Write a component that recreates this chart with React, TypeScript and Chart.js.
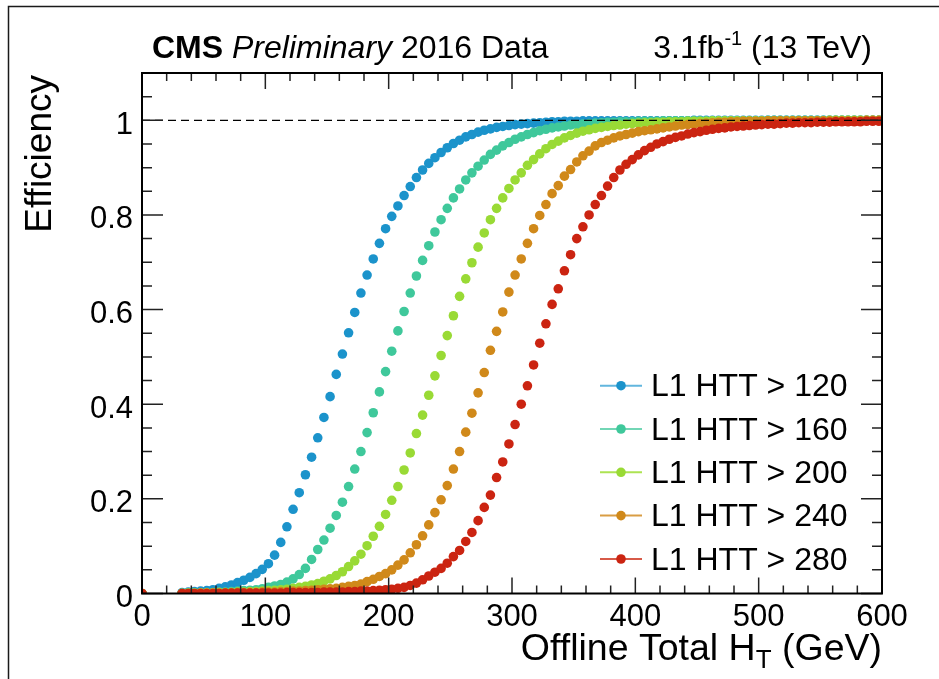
import React, { useEffect, useRef } from "react";
import { Chart, registerables } from "chart.js";

Chart.register(...registerables);

const W = 939;
const H = 679;
const FONT = "'Liberation Sans', Arial, Helvetica, sans-serif";

// Offline H_T bin centres (GeV): a lone first bin at 0, then 5 GeV bins from 30 to 600
const htBins = [0, ...Array.from({ length: 114 }, (_, i) => 32.5 + 5 * i)];

// Efficiency per bin, one row = 10 bins
const effHTT120 = [0,
  0.002, 0.003, 0.004, 0.005, 0.006, 0.008, 0.011, 0.014, 0.018, 0.023,
  0.028, 0.034, 0.042, 0.051, 0.063, 0.081, 0.108, 0.141, 0.178, 0.213,
  0.251, 0.288, 0.329, 0.372, 0.416, 0.463, 0.506, 0.551, 0.594, 0.635,
  0.673, 0.707, 0.740, 0.771, 0.797, 0.819, 0.841, 0.860, 0.879, 0.895,
  0.909, 0.921, 0.932, 0.942, 0.951, 0.958, 0.965, 0.970, 0.975, 0.979,
  0.982, 0.985, 0.987, 0.989, 0.991, 0.992, 0.993, 0.994, 0.995, 0.996,
  0.997, 0.997, 0.998, 0.998, 0.998, 0.999, 0.999, 0.999, 0.999, 0.999,
  0.999, 0.999, 0.999, 0.999, 0.999, 0.999, 0.999, 0.999, 0.999, 0.999,
  0.999, 0.999, 0.999, 1, 1, 1, 1, 1, 1, 1,
  1, 1, 1, 1, 1, 1, 1, 1, 1, 1,
  1, 1, 1, 1, 1, 1, 1, 1, 1, 1,
  1, 1, 1, 1,
];

const effHTT160 = [0,
  0.001, 0.001, 0.001, 0.001, 0.002, 0.002, 0.003, 0.003, 0.004, 0.005,
  0.006, 0.007, 0.008, 0.010, 0.013, 0.016, 0.019, 0.024, 0.031, 0.040,
  0.053, 0.072, 0.093, 0.113, 0.138, 0.165, 0.193, 0.226, 0.263, 0.300,
  0.340, 0.382, 0.426, 0.469, 0.512, 0.555, 0.596, 0.635, 0.671, 0.704,
  0.735, 0.764, 0.790, 0.814, 0.836, 0.855, 0.874, 0.889, 0.903, 0.916,
  0.928, 0.937, 0.946, 0.953, 0.960, 0.965, 0.970, 0.974, 0.978, 0.981,
  0.984, 0.986, 0.988, 0.990, 0.991, 0.992, 0.993, 0.994, 0.995, 0.996,
  0.996, 0.997, 0.997, 0.997, 0.998, 0.998, 0.998, 0.998, 0.999, 0.999,
  0.999, 0.999, 0.999, 0.999, 0.999, 0.999, 0.999, 0.999, 0.999, 0.999,
  0.999, 0.999, 0.999, 0.999, 0.999, 1, 1, 1, 1, 1,
  1, 1, 1, 1, 1, 1, 1, 1, 1, 1,
  1, 1, 1, 1,
];

const effHTT200 = [0,
  0.000, 0.001, 0.001, 0.001, 0.001, 0.001, 0.002, 0.002, 0.002, 0.003,
  0.003, 0.004, 0.004, 0.005, 0.006, 0.007, 0.008, 0.009, 0.011, 0.013,
  0.015, 0.018, 0.021, 0.026, 0.031, 0.038, 0.046, 0.057, 0.069, 0.083,
  0.101, 0.121, 0.142, 0.167, 0.197, 0.226, 0.261, 0.297, 0.338, 0.377,
  0.419, 0.460, 0.503, 0.545, 0.587, 0.628, 0.665, 0.699, 0.732, 0.762,
  0.790, 0.814, 0.836, 0.856, 0.874, 0.889, 0.905, 0.917, 0.929, 0.940,
  0.949, 0.956, 0.963, 0.968, 0.973, 0.977, 0.980, 0.983, 0.985, 0.987,
  0.989, 0.990, 0.992, 0.993, 0.994, 0.995, 0.995, 0.996, 0.996, 0.997,
  0.997, 0.997, 0.998, 0.998, 0.998, 0.998, 0.999, 0.999, 0.999, 0.999,
  0.999, 0.999, 0.999, 0.999, 0.999, 0.999, 0.999, 0.999, 0.999, 0.999,
  0.999, 0.999, 0.999, 0.999, 0.999, 1, 1, 1, 1, 1,
  1, 1, 1, 1,
];

const effHTT240 = [0,
  0.000, 0.000, 0.000, 0.001, 0.001, 0.001, 0.001, 0.001, 0.001, 0.002,
  0.002, 0.002, 0.002, 0.003, 0.003, 0.003, 0.004, 0.004, 0.005, 0.005,
  0.006, 0.007, 0.008, 0.009, 0.010, 0.011, 0.013, 0.015, 0.017, 0.020,
  0.025, 0.030, 0.036, 0.042, 0.050, 0.060, 0.071, 0.086, 0.103, 0.122,
  0.145, 0.171, 0.198, 0.228, 0.263, 0.300, 0.341, 0.381, 0.424, 0.467,
  0.514, 0.554, 0.595, 0.637, 0.673, 0.707, 0.740, 0.771, 0.799, 0.822,
  0.845, 0.862, 0.882, 0.896, 0.912, 0.925, 0.935, 0.946, 0.953, 0.958,
  0.963, 0.967, 0.970, 0.973, 0.976, 0.978, 0.980, 0.982, 0.984, 0.986,
  0.988, 0.990, 0.991, 0.992, 0.993, 0.994, 0.995, 0.996, 0.996, 0.997,
  0.997, 0.998, 0.998, 0.998, 0.998, 0.999, 0.999, 0.999, 0.999, 0.999,
  0.999, 0.999, 0.999, 0.999, 0.999, 0.999, 0.999, 0.999, 0.999, 0.999,
  0.999, 1, 1, 1,
];

const effHTT280 = [0,
  0.000, 0.000, 0.000, 0.000, 0.000, 0.000, 0.000, 0.001, 0.001, 0.001,
  0.001, 0.001, 0.001, 0.001, 0.001, 0.001, 0.001, 0.002, 0.002, 0.002,
  0.002, 0.002, 0.002, 0.003, 0.003, 0.003, 0.003, 0.004, 0.004, 0.005,
  0.005, 0.006, 0.007, 0.008, 0.009, 0.011, 0.013, 0.017, 0.022, 0.029,
  0.037, 0.045, 0.053, 0.064, 0.078, 0.091, 0.110, 0.129, 0.154, 0.182,
  0.208, 0.245, 0.278, 0.316, 0.357, 0.400, 0.439, 0.483, 0.529, 0.570,
  0.611, 0.644, 0.682, 0.716, 0.750, 0.775, 0.800, 0.822, 0.841, 0.861,
  0.879, 0.895, 0.907, 0.917, 0.927, 0.936, 0.943, 0.950, 0.955, 0.960,
  0.964, 0.967, 0.971, 0.974, 0.976, 0.979, 0.981, 0.983, 0.984, 0.986,
  0.987, 0.988, 0.989, 0.990, 0.991, 0.992, 0.992, 0.993, 0.994, 0.994,
  0.995, 0.995, 0.995, 0.996, 0.996, 0.996, 0.997, 0.997, 0.997, 0.997,
  0.997, 0.998, 0.998, 0.998,
];

const seriesLabels = ["L1 HTT > 120", "L1 HTT > 160", "L1 HTT > 200", "L1 HTT > 240", "L1 HTT > 280"];
const seriesValues = [effHTT120, effHTT160, effHTT200, effHTT240, effHTT280];
const markerColors = ["#1b93cb", "#3fc89b", "#99da35", "#d0891a", "#cb2411"];
const legendLineColors = ["#62b6de", "#72d6b5", "#ade352", "#d99d44", "#d75a48"];

const xMajorTicks = [0, 100, 200, 300, 400, 500, 600];
const yMajorTicks = [0, 0.2, 0.4, 0.6, 0.8, 1];
const yTickLabels = ["0", "0.2", "0.4", "0.6", "0.8", "1"];

const rootStylePlugin = {
  id: "rootStyle",
  beforeDraw(chart: any) {
    const ctx = chart.ctx;
    ctx.save();
    ctx.fillStyle = "#ffffff";
    ctx.fillRect(0, 0, W, H);
    // outer canvas frame
    ctx.strokeStyle = "#1a1a1a";
    ctx.lineWidth = 1.5;
    ctx.beginPath();
    ctx.moveTo(8.5, H + 2);
    ctx.lineTo(8.5, 6.5);
    ctx.lineTo(W + 2, 6.5);
    ctx.stroke();
    ctx.restore();
  },
  afterDatasetsDraw(chart: any) {
    const ctx = chart.ctx;
    const { left, right } = chart.chartArea;
    const y1 = chart.scales.y.getPixelForValue(1);
    ctx.save();
    ctx.strokeStyle = "#000";
    ctx.lineWidth = 1.2;
    ctx.setLineDash([8, 5]);
    ctx.beginPath();
    ctx.moveTo(left, y1);
    ctx.lineTo(right, y1);
    ctx.stroke();
    ctx.restore();
  },
  afterDraw(chart: any) {
    const ctx = chart.ctx;
    const { left, right, top, bottom } = chart.chartArea;
    const xs = chart.scales.x;
    const ys = chart.scales.y;
    ctx.save();

    // ticks on all four sides, pointing inwards
    ctx.strokeStyle = "#222";
    ctx.lineWidth = 1.5;
    ctx.beginPath();
    for (let v = 0; v <= 600; v += 20) {
      const px = xs.getPixelForValue(v);
      const len = v % 100 === 0 ? 16 : 8;
      ctx.moveTo(px, bottom);
      ctx.lineTo(px, bottom - len);
      ctx.moveTo(px, top);
      ctx.lineTo(px, top + len);
    }
    for (let i = 0; i <= 22; i++) {
      const v = i * 0.05;
      const py = ys.getPixelForValue(v);
      const len = i % 4 === 0 ? 21 : 10;
      ctx.moveTo(left, py);
      ctx.lineTo(left + len, py);
      ctx.moveTo(right, py);
      ctx.lineTo(right - len, py);
    }
    ctx.stroke();

    // frame
    ctx.strokeStyle = "#000";
    ctx.lineWidth = 2;
    ctx.strokeRect(left, top, right - left, bottom - top);

    // tick labels
    ctx.fillStyle = "#000";
    ctx.font = `31px ${FONT}`;
    ctx.textBaseline = "alphabetic";
    ctx.textAlign = "center";
    xMajorTicks.forEach((v) => {
      ctx.fillText(String(v), xs.getPixelForValue(v), 626);
    });
    ctx.textAlign = "right";
    yMajorTicks.forEach((v, i) => {
      ctx.fillText(yTickLabels[i], 133, ys.getPixelForValue(v) + 13.5);
    });

    // x-axis title with subscript, right-aligned to the frame
    const titleSize = 37.5;
    const subSize = 26;
    ctx.textAlign = "left";
    ctx.font = `${titleSize}px ${FONT}`;
    const p1 = "Offline Total H";
    const p3 = " (GeV)";
    const w1 = ctx.measureText(p1).width;
    const w3 = ctx.measureText(p3).width;
    ctx.font = `${subSize}px ${FONT}`;
    const w2 = ctx.measureText("T").width;
    let x0 = right - (w1 + w2 + w3);
    const xb = 660;
    ctx.font = `${titleSize}px ${FONT}`;
    ctx.fillText(p1, x0, xb);
    x0 += w1;
    ctx.font = `${subSize}px ${FONT}`;
    ctx.fillText("T", x0, xb + 8);
    x0 += w2;
    ctx.font = `${titleSize}px ${FONT}`;
    ctx.fillText(p3, x0, xb);

    // y-axis title, rotated, aligned to the top of the axis
    ctx.save();
    ctx.translate(51, 75);
    ctx.rotate(-Math.PI / 2);
    ctx.textAlign = "right";
    ctx.font = `37px ${FONT}`;
    ctx.fillText("Efficiency", 0, 0);
    ctx.restore();

    // header
    const hb = 58;
    let hx = 152;
    ctx.textAlign = "left";
    ctx.font = `bold 32px ${FONT}`;
    ctx.fillText("CMS", hx, hb);
    hx += ctx.measureText("CMS ").width;
    ctx.font = `italic 32px ${FONT}`;
    ctx.fillText("Preliminary", hx, hb);
    hx += ctx.measureText("Preliminary ").width;
    ctx.font = `32px ${FONT}`;
    ctx.fillText("2016 Data", hx, hb);

    const r1 = "3.1fb";
    const r2 = "-1";
    const r3 = " (13 TeV)";
    ctx.font = `32px ${FONT}`;
    const rw1 = ctx.measureText(r1).width;
    const rw3 = ctx.measureText(r3).width;
    ctx.font = `20px ${FONT}`;
    const rw2 = ctx.measureText(r2).width;
    let rx = 872 - (rw1 + rw2 + rw3);
    ctx.font = `32px ${FONT}`;
    ctx.fillText(r1, rx, hb);
    rx += rw1;
    ctx.font = `20px ${FONT}`;
    ctx.fillText(r2, rx, hb - 13);
    rx += rw2;
    ctx.font = `32px ${FONT}`;
    ctx.fillText(r3, rx, hb);

    // legend
    const legendY = [385.7, 429, 472.3, 515.6, 559];
    seriesLabels.forEach((label, i) => {
      const ly = legendY[i];
      ctx.strokeStyle = legendLineColors[i];
      ctx.lineWidth = 2;
      ctx.beginPath();
      ctx.moveTo(600, ly);
      ctx.lineTo(642, ly);
      ctx.stroke();
      ctx.fillStyle = markerColors[i];
      ctx.beginPath();
      ctx.arc(621, ly, 4.8, 0, Math.PI * 2);
      ctx.fill();
      ctx.fillStyle = "#000";
      ctx.font = `32px ${FONT}`;
      ctx.textAlign = "left";
      ctx.fillText(label, 651, ly + 10.5);
    });

    ctx.restore();
  },
};

export default function App() {
  const canvasRef = useRef<HTMLCanvasElement | null>(null);

  useEffect(() => {
    const canvas = canvasRef.current;
    if (!canvas) return;
    const datasets = seriesValues.map((vals, i) => ({
      label: seriesLabels[i],
      data: vals.map((y, j) => ({ x: htBins[j], y })),
      showLine: false,
      pointRadius: 4.8,
      pointHoverRadius: 4.8,
      pointBorderWidth: 0,
      pointBackgroundColor: markerColors[i],
      pointBorderColor: markerColors[i],
      order: seriesValues.length - 1 - i,
    }));
    const chart = new Chart(canvas, {
      type: "scatter",
      data: { datasets },
      options: {
        responsive: false,
        maintainAspectRatio: false,
        devicePixelRatio: 1,
        animation: false,
        events: [],
        layout: { padding: { left: 142, top: 73, right: 57, bottom: 85.5 } },
        scales: {
          x: { type: "linear", min: 0, max: 600, display: false },
          y: { type: "linear", min: 0, max: 1.1, display: false },
        },
        plugins: {
          legend: { display: false },
          tooltip: { enabled: false },
        },
      },
      plugins: [rootStylePlugin],
    });
    return () => chart.destroy();
  }, []);

  return (
    <div style={{ position: "fixed", left: 0, top: 0, width: W, height: H, background: "#fff" }}>
      <canvas ref={canvasRef} width={W} height={H} style={{ width: W, height: H, display: "block" }} />
    </div>
  );
}
